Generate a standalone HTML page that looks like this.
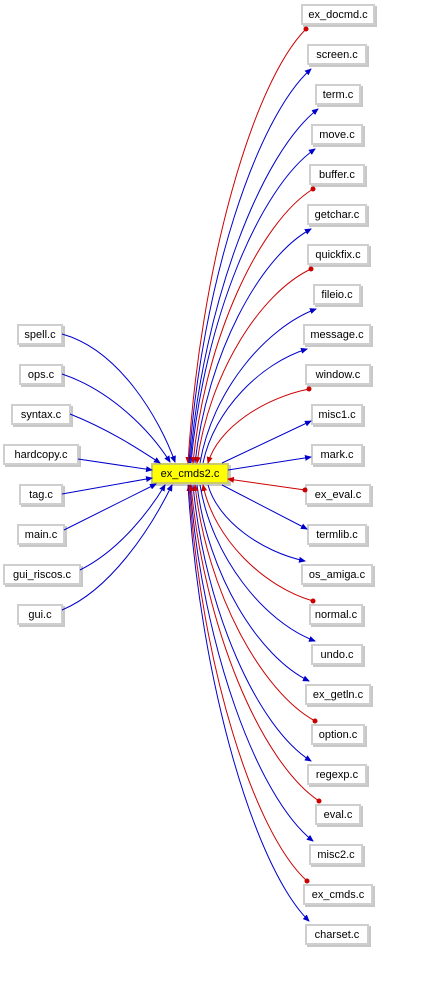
<!DOCTYPE html><html><head><style>
body{margin:0;width:431px;height:1003px;background:#fff;position:relative;font-family:"Liberation Sans",sans-serif;font-size:11px;overflow:hidden}
.n{position:absolute;height:17px;line-height:19px;text-align:center;background:#fff;border:2px solid #cfcfcf;box-shadow:2px 2px 0 #c8c8c8;color:#000;box-sizing:content-box}
svg{position:absolute;left:0;top:0;z-index:1}
</style></head><body>
<svg width="431" height="1003">
<defs>
<marker id="ab" markerWidth="7" markerHeight="6" refX="6" refY="3" orient="auto" markerUnits="userSpaceOnUse"><path d="M0,0L7,3L0,6z" fill="#0000cc"/></marker>
<marker id="ar" markerWidth="7" markerHeight="6" refX="6" refY="3" orient="auto-start-reverse" markerUnits="userSpaceOnUse"><path d="M0,0L7,3L0,6z" fill="#cc0000"/></marker>
<marker id="dr" markerWidth="6" markerHeight="6" refX="3" refY="3" markerUnits="userSpaceOnUse"><circle cx="3" cy="3" r="2.5" fill="#cc0000"/></marker>
</defs>
<g fill="none" stroke-width="1">
<path stroke="#cc0000" marker-start="url(#ar)" marker-end="url(#dr)" d="M188,463C200,266 253,82 306,29"/>
<path stroke="#0000cc" marker-end="url(#ab)" d="M189,463C201,284 257,117 311,69"/>
<path stroke="#0000cc" marker-end="url(#ab)" d="M190,463C203,302 262,152 318,109"/>
<path stroke="#0000cc" marker-end="url(#ab)" d="M191,463C204,320 260,187 315,149"/>
<path stroke="#cc0000" marker-start="url(#ar)" marker-end="url(#dr)" d="M193,463C205,338 260,222 313,189"/>
<path stroke="#0000cc" marker-end="url(#ab)" d="M195,463C207,356 259,257 311,229"/>
<path stroke="#cc0000" marker-start="url(#ar)" marker-end="url(#dr)" d="M197,463C209,374 260,293 311,269"/>
<path stroke="#0000cc" marker-end="url(#ab)" d="M200,463C212,392 265,328 316,309"/>
<path stroke="#0000cc" marker-end="url(#ab)" d="M203,463C214,410 261,363 307,349"/>
<path stroke="#cc0000" marker-start="url(#ar)" marker-end="url(#dr)" d="M208,463C218,428 264,398 309,389"/>
<path stroke="#0000cc" marker-end="url(#ab)" d="M222,463L311,421"/>
<path stroke="#0000cc" marker-end="url(#ab)" d="M228,470L311,457"/>
<path stroke="#cc0000" marker-start="url(#ar)" marker-end="url(#dr)" d="M228,479L305,490"/>
<path stroke="#0000cc" marker-end="url(#ab)" d="M222,485L307,529"/>
<path stroke="#0000cc" marker-end="url(#ab)" d="M208,485C218,521 262,552 305,561"/>
<path stroke="#cc0000" marker-start="url(#ar)" marker-end="url(#dr)" d="M203,485C214,539 264,587 313,601"/>
<path stroke="#0000cc" marker-end="url(#ab)" d="M200,485C212,557 264,622 315,641"/>
<path stroke="#0000cc" marker-end="url(#ab)" d="M197,485C208,575 259,657 309,681"/>
<path stroke="#cc0000" marker-start="url(#ar)" marker-end="url(#dr)" d="M195,485C207,593 262,692 315,721"/>
<path stroke="#0000cc" marker-end="url(#ab)" d="M193,485C205,611 258,728 311,761"/>
<path stroke="#cc0000" marker-start="url(#ar)" marker-end="url(#dr)" d="M191,485C204,629 262,763 319,801"/>
<path stroke="#0000cc" marker-end="url(#ab)" d="M190,485C202,647 258,798 313,841"/>
<path stroke="#cc0000" marker-start="url(#ar)" marker-end="url(#dr)" d="M189,485C201,665 254,833 307,881"/>
<path stroke="#0000cc" marker-end="url(#ab)" d="M188,485C200,683 255,868 309,921"/>
<path stroke="#0000cc" marker-end="url(#ab)" d="M62,334C120,350 160,420 175,462"/>
<path stroke="#0000cc" marker-end="url(#ab)" d="M62,374C110,390 150,430 170,462"/>
<path stroke="#0000cc" marker-end="url(#ab)" d="M70,414C110,430 140,450 160,463"/>
<path stroke="#0000cc" marker-end="url(#ab)" d="M78,459L152,470"/>
<path stroke="#0000cc" marker-end="url(#ab)" d="M62,494L152,478"/>
<path stroke="#0000cc" marker-end="url(#ab)" d="M64,530L156,484"/>
<path stroke="#0000cc" marker-end="url(#ab)" d="M80,570C120,550 150,510 165,485"/>
<path stroke="#0000cc" marker-end="url(#ab)" d="M62,610C110,590 150,530 172,485"/>
</g></svg>
<div class="n" style="left:151px;top:463px;width:74px;background:#ffff00;border-color:#cccc66">ex_cmds2.c</div>
<div class="n" style="left:301px;top:4px;width:70px">ex_docmd.c</div>
<div class="n" style="left:307px;top:44px;width:56px">screen.c</div>
<div class="n" style="left:315px;top:84px;width:42px">term.c</div>
<div class="n" style="left:311px;top:124px;width:48px">move.c</div>
<div class="n" style="left:309px;top:164px;width:52px">buffer.c</div>
<div class="n" style="left:307px;top:204px;width:56px">getchar.c</div>
<div class="n" style="left:307px;top:244px;width:58px">quickfix.c</div>
<div class="n" style="left:313px;top:284px;width:44px">fileio.c</div>
<div class="n" style="left:303px;top:324px;width:64px">message.c</div>
<div class="n" style="left:305px;top:364px;width:62px">window.c</div>
<div class="n" style="left:311px;top:404px;width:48px">misc1.c</div>
<div class="n" style="left:311px;top:444px;width:48px">mark.c</div>
<div class="n" style="left:305px;top:484px;width:62px">ex_eval.c</div>
<div class="n" style="left:307px;top:524px;width:56px">termlib.c</div>
<div class="n" style="left:301px;top:564px;width:68px">os_amiga.c</div>
<div class="n" style="left:309px;top:604px;width:50px">normal.c</div>
<div class="n" style="left:311px;top:644px;width:48px">undo.c</div>
<div class="n" style="left:305px;top:684px;width:62px">ex_getln.c</div>
<div class="n" style="left:311px;top:724px;width:50px">option.c</div>
<div class="n" style="left:307px;top:764px;width:56px">regexp.c</div>
<div class="n" style="left:315px;top:804px;width:42px">eval.c</div>
<div class="n" style="left:309px;top:844px;width:50px">misc2.c</div>
<div class="n" style="left:303px;top:884px;width:66px">ex_cmds.c</div>
<div class="n" style="left:305px;top:924px;width:60px">charset.c</div>
<div class="n" style="left:17px;top:324px;width:42px">spell.c</div>
<div class="n" style="left:19px;top:364px;width:40px">ops.c</div>
<div class="n" style="left:11px;top:404px;width:56px">syntax.c</div>
<div class="n" style="left:3px;top:444px;width:72px">hardcopy.c</div>
<div class="n" style="left:19px;top:484px;width:40px">tag.c</div>
<div class="n" style="left:17px;top:524px;width:44px">main.c</div>
<div class="n" style="left:3px;top:564px;width:74px">gui_riscos.c</div>
<div class="n" style="left:17px;top:604px;width:42px">gui.c</div>
</body></html>
